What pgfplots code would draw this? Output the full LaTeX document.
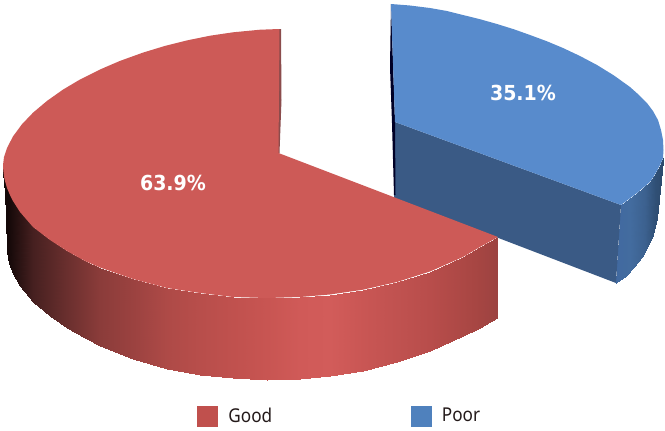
\documentclass[border=0pt]{standalone}
\usepackage{pgfplots}
\pgfplotsset{compat=1.18}
\usepackage{fontspec}
\setmainfont{Noto Sans}
\newfontfamily\labfont{DejaVu Sans}[FakeStretch=0.92]
\newfontfamily\legfont{Noto Sans}[FakeStretch=0.9]
\definecolor{redtop}{RGB}{205,90,87}
\definecolor{bluetop}{RGB}{88,139,204}
\definecolor{bluefront}{RGB}{58,90,133}
\definecolor{legred}{RGB}{192,80,77}
\definecolor{legblue}{RGB}{79,129,189}
\pgfplotsset{
  colormap={redside}{
    rgb255(0pt)=(20,8,8) rgb255(8pt)=(20,8,8) rgb255(33pt)=(70,32,32) rgb255(67pt)=(106,47,46)
    rgb255(100pt)=(139,60,58) rgb255(133pt)=(155,66,64) rgb255(167pt)=(174,74,71)
    rgb255(200pt)=(184,78,75) rgb255(233pt)=(192,81,78) rgb255(267pt)=(200,85,82)
    rgb255(300pt)=(208,90,88) rgb255(330pt)=(210,92,90) rgb255(363pt)=(201,86,84)
    rgb255(397pt)=(192,82,80) rgb255(430pt)=(184,77,75) rgb255(463pt)=(172,72,69)
    rgb255(480pt)=(165,69,66) rgb255(497pt)=(156,67,65) rgb255(665pt)=(156,67,65)},
  colormap={blueside}{
    rgb255(0pt)=(65,105,160) rgb255(616pt)=(65,105,160) rgb255(630pt)=(67,108,159)
    rgb255(645pt)=(60,97,143) rgb255(655pt)=(48,80,118) rgb255(665pt)=(44,72,106)},
}
\begin{document}
\begin{tikzpicture}
\begin{axis}[
  scale only axis, width=498.75pt, height=322.5pt,
  xmin=0, xmax=665, ymin=0, ymax=430, y dir=reverse,
  hide axis, clip=false,
  point meta min=0, point meta max=665,
  legend columns=2,
  legend style={at={(axis cs:197,416)}, anchor=west, draw=none, fill=none, inner sep=0pt,
    font=\legfont\fontsize{14.3}{15}\selectfont\color[RGB]{35,25,25},
    /tikz/every even column/.append style={column sep=103.8pt},
    nodes={inner xsep=0pt, inner ysep=0pt}},
  legend image code/.code={\fill[#1] (0pt,-7.5pt) rectangle (15pt,7.5pt);},
]
\path (axis cs:0,0) rectangle (axis cs:665,430);
% blue slice: outer side
\addplot[surf, shader=interp, colormap name=blueside, point meta=x, mesh/cols=2, forget plot] coordinates {
 (621,205) (616,283)
 (629,199) (626,276)
 (637,193) (634,267)
 (644,187) (642,257)
 (650,182) (648,246)
 (654,176) (653,235)
 (658,169) (657,218)
 (661,163) (660,190)
 (663,158) (663,160)
};
% blue slice: cut face
\addplot[fill=bluefront, draw=none, forget plot] coordinates {(395,122) (621,205) (616,283) (394,198)} --cycle;
% blue slice: dark sliver
\addplot[fill=black!85!blue, draw=none, forget plot] coordinates {(391,4) (390,67) (392,123) (394,195) (395.5,195) (395,122)} --cycle;
% blue slice: top face
\addplot[fill=bluetop, draw=none, forget plot] coordinates {
 (395,122) (391,4) (410,5.5) (430,8) (447,11) (463,15) (480,19.2) (497,24) (514,29.3) (530,35) (547,41.3) (563,48)
 (580,56) (597,65) (614,75.5) (630,87) (639,95) (647,103) (653,111) (658,120) (661,130) (663,140) (663.5,150) (663,158)
 (661,163) (658,169) (654,176) (650,182) (644,187) (637,193) (629,199) (621,205)} --cycle;
% red slice: outer side
\addplot[surf, shader=interp, colormap name=redside, point meta=x, mesh/cols=2, forget plot] coordinates {
 (3,167) (3,172)
 (4,176.5) (4,183)
 (5,181) (5,192)
 (6,185) (6,217)
 (7,188) (7,250)
 (8.5,192) (8.5,259)
 (10,195) (10,266)
 (13,201) (13,274)
 (20,212) (20,286)
 (33,227) (33,302)
 (50,240) (50,316)
 (67,251) (67,328)
 (85,261) (85,338)
 (100,267.5) (100,346)
 (133,279) (133,359)
 (167,288) (167,368.5)
 (200,293) (200,374.5)
 (233,297) (233,378)
 (267,298) (267,380)
 (300,297) (300,379)
 (330,294.5) (330,376)
 (363,289.7) (363,370.5)
 (397,282) (397,362)
 (430,271.5) (430,351)
 (463,257) (463,336)
 (480,247) (480,328)
 (498,237) (496.5,318)
};
% red slice: inner sliver
\addplot[fill=red!35!black!70!white, draw=none, forget plot] coordinates {(279,29) (281,29) (281.5,100) (279.5,153) (278,153)} --cycle;
% red slice: top face
\addplot[fill=redtop, draw=none, forget plot] coordinates {
 (278.5,153) (279.5,29) (260,29.7) (233,32.3) (210,35.7) (187,40.4) (165,45.9) (143,52.6) (120,60.9) (100,69.5)
 (80,79.5) (63,89.6) (47,100.9) (33,112.7) (22,124.2) (13,136.4) (7,148) (4,157) (3,165)
 (3,167) (4,176.5) (5,181) (7,188) (10,195) (13,201) (20,212) (33,227) (50,240) (67,251) (85,261) (100,267.5)
 (133,279) (167,288) (200,293) (233,297) (267,298) (300,297) (330,294.5) (363,289.7) (397,282)
 (430,271.5) (463,257) (480,247) (498,237)} --cycle;
\addlegendimage{legred}
\addlegendentry{\hspace{8pt}Good}
\addlegendimage{legblue}
\addlegendentry{\hspace{8pt}Poor}
\node[font=\labfont\bfseries\fontsize{15.5}{18}\selectfont, text=white, inner sep=0pt] at (axis cs:173,183) {63.9\%};
\node[font=\labfont\bfseries\fontsize{15.5}{18}\selectfont, text=white, inner sep=0pt] at (axis cs:523,93) {35.1\%};
\end{axis}
\end{tikzpicture}
\end{document}
